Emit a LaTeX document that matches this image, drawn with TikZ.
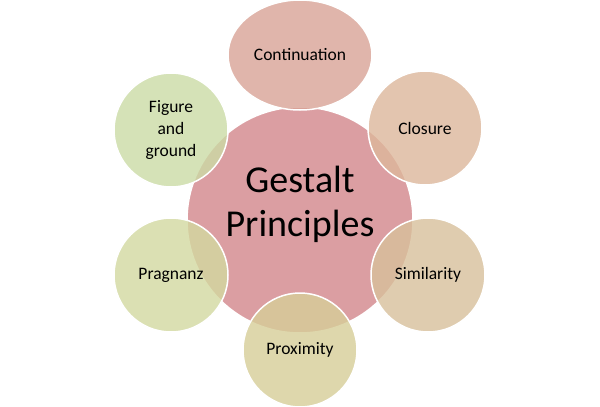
\documentclass[tikz,border=0pt]{standalone}
\usepackage{fontspec}
\setmainfont{Carlito}
\begin{document}
\begin{tikzpicture}[x=1pt,y=-1pt,
  petal/.style={draw=white,line width=1.5pt,fill opacity=0.8,text opacity=1,font=\fontsize{17.5}{22}\selectfont,align=center}]
\useasboundingbox (0,0) rectangle (600,407);
\fill[white] (0,0) rectangle (600,407);
\fill[draw=white,line width=1.5pt,fill={rgb,255:red,219;green,158;blue,162}] (300,220) ellipse (113 and 113);
\node[font=\fontsize{38}{44}\selectfont,align=center] (c) at (300,204) {Gestalt\\Principles};
\path[petal,fill={rgb,255:red,217;green,163;blue,150}] (300,55) ellipse (72 and 55);
\node[petal,draw=none] (n1) at (300,55) {Continuation};
\path[petal,fill={rgb,255:red,221;green,183;blue,155}] (425,128) ellipse (57 and 57);
\node[petal,draw=none] (n2) at (425,128) {Closure};
\path[petal,fill={rgb,255:red,216;green,192;blue,155}] (428,275) ellipse (57 and 57);
\node[petal,draw=none] (n3) at (428,275) {Similarity};
\path[petal,fill={rgb,255:red,214;green,206;blue,152}] (300,350) ellipse (57 and 57);
\node[petal,draw=none] (n4) at (300,350) {Proximity};
\path[petal,fill={rgb,255:red,211;green,217;blue,160}] (171,275) ellipse (57 and 57);
\node[petal,draw=none] (n5) at (171,275) {Pragnanz};
\path[petal,fill={rgb,255:red,203;green,219;blue,165}] (171,130) ellipse (57 and 57);
\node[petal,draw=none] (n6) at (171,130) {Figure\\and\\ground};
\end{tikzpicture}
\end{document}
